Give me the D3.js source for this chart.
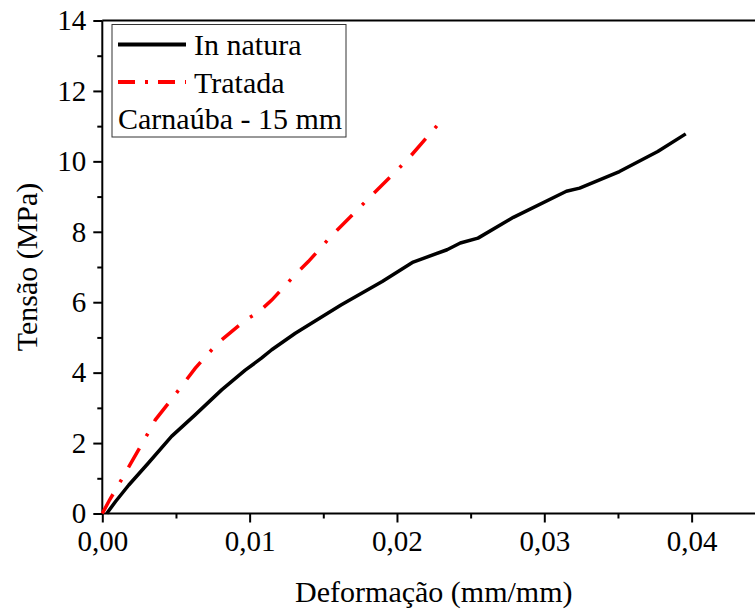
<!DOCTYPE html>
<html>
<head>
<meta charset="utf-8">
<script src="https://cdn.jsdelivr.net/npm/d3@7"></script>
<style>
    body { margin: 0; background: #fff; }
</style>
</head>
<body>
<div id="chart"></div>
<script>
// strain (mm/mm) and stress (MPa)
const naturaX = [0.0003, 0.0009, 0.0018, 0.0031, 0.0047, 0.0063, 0.0081, 0.0097, 0.0108, 0.0115, 0.0131, 0.0162, 0.0190, 0.0211, 0.0234, 0.0243, 0.0255, 0.0279, 0.0315, 0.0324, 0.0351, 0.0377, 0.0396];
const naturaY = [0, 0.34, 0.81, 1.42, 2.19, 2.80, 3.51, 4.07, 4.41, 4.65, 5.12, 5.92, 6.59, 7.14, 7.49, 7.68, 7.82, 8.41, 9.15, 9.24, 9.71, 10.28, 10.78];

const tratadaX = [0, 0.0005, 0.0010, 0.0020, 0.0031, 0.0036, 0.0049, 0.0057, 0.0063, 0.0071, 0.0079, 0.0097, 0.0106, 0.0115, 0.0132, 0.0140, 0.0155, 0.0182, 0.0207, 0.0231];
const tratadaY = [0, 0.39, 0.74, 1.47, 2.28, 2.66, 3.35, 3.79, 4.12, 4.50, 4.86, 5.49, 5.72, 6.06, 6.83, 7.16, 7.86, 9.00, 10.04, 11.20];

const xTicks = [0, 0.01, 0.02, 0.03, 0.04];
const xMinorTicks = [0.005, 0.015, 0.025, 0.035];
const yTicks = [0, 2, 4, 6, 8, 10, 12, 14];
const yMinorTicks = [1, 3, 5, 7, 9, 11, 13];

const legendLabels = ['In natura', 'Tratada'];
const legendNote = 'Carnaúba - 15 mm';

const FONT = '"Liberation Serif", "Times New Roman", "DejaVu Serif", serif';

const width = 755,
    height = 610,
    margin = { top: 20.5, left: 102.3 },
    plotW = 663,
    plotH = 493;

const x = d3.scaleLinear().domain([0, 0.045]).range([0, plotW]);
const y = d3.scaleLinear().domain([0, 14]).range([plotH, 0]);

const svg = d3.select('#chart').append('svg')
    .attr('width', width)
    .attr('height', height)
    .style('font-family', FONT);

const g = svg.append('g')
    .attr('transform', 'translate(' + margin.left + ',' + margin.top + ')');

const fmt = d => d3.format('.2f')(d).replace('.', ',');

// x axis
const xAxis = g.append('g')
    .attr('transform', 'translate(0,' + plotH + ')')
    .call(d3.axisBottom(x).tickValues(xTicks).tickFormat(fmt).tickSize(9).tickPadding(8));
g.append('g')
    .attr('transform', 'translate(0,' + plotH + ')')
    .call(d3.axisBottom(x).tickValues(xMinorTicks).tickFormat('').tickSize(5))
    .select('.domain').remove();

// y axis
const yAxis = g.append('g')
    .call(d3.axisLeft(y).tickValues(yTicks).tickSize(9).tickPadding(7));
g.append('g')
    .call(d3.axisLeft(y).tickValues(yMinorTicks).tickFormat('').tickSize(5))
    .select('.domain').remove();

// d3 axes put font-family="sans-serif" on their groups, override it
g.selectAll('g').attr('font-family', null);

g.selectAll('.domain').attr('stroke', '#000').attr('stroke-width', 2);
g.selectAll('.tick line').attr('stroke', '#000').attr('stroke-width', 2);
xAxis.selectAll('text').style('font-size', '29px').style('font-family', FONT).attr('fill', '#000').attr('dy', '0.71em');
yAxis.selectAll('text').style('font-size', '29px').style('font-family', FONT).attr('fill', '#000');
xAxis.select('.domain').attr('d', 'M0,0H' + plotW);
yAxis.select('.domain').attr('d', 'M0,0V' + plotH);

// top frame line
g.append('line')
    .attr('x1', 0).attr('x2', plotW)
    .attr('y1', 0).attr('y2', 0)
    .attr('stroke', '#000').attr('stroke-width', 2);

// axis titles
svg.append('text')
    .attr('x', margin.left + plotW / 2)
    .attr('y', 602)
    .attr('text-anchor', 'middle')
    .style('font-size', '30px')
    .style('font-family', FONT)
    .text('Deformação (mm/mm)');

svg.append('text')
    .attr('transform', 'translate(37,' + (margin.top + plotH / 2) + ') rotate(-90)')
    .attr('text-anchor', 'middle')
    .style('font-size', '30px')
    .style('font-family', FONT)
    .text('Tensão (MPa)');

// curves
const line = d3.line()
    .x(d => x(d[0]))
    .y(d => y(d[1]));

const naturaData = naturaX.map((v, i) => [v, naturaY[i]]);
const tratadaData = tratadaX.map((v, i) => [v, tratadaY[i]]);

g.append('path')
    .datum(naturaData)
    .attr('fill', 'none')
    .attr('stroke', '#000')
    .attr('stroke-width', 3.5)
    .attr('stroke-linejoin', 'round')
    .attr('d', line);

g.append('path')
    .datum(tratadaData)
    .attr('fill', 'none')
    .attr('stroke', '#ff0000')
    .attr('stroke-width', 3.5)
    .attr('stroke-dasharray', '22,14,3,14')
    .attr('d', line);

// legend
const legend = svg.append('g').attr('transform', 'translate(112,24.5)');

legend.append('rect')
    .attr('width', 234)
    .attr('height', 112.5)
    .attr('fill', '#fff')
    .attr('stroke', '#333')
    .attr('stroke-width', 1);

const styles = [
    { color: '#000', dash: null },
    { color: '#ff0000', dash: '17,10,3,10' }
];

legendLabels.forEach((label, i) => {
    const ly = 20 + i * 37.5;
    legend.append('line')
        .attr('x1', 6).attr('x2', 74)
        .attr('y1', ly).attr('y2', ly)
        .attr('stroke', styles[i].color)
        .attr('stroke-width', 4)
        .attr('stroke-dasharray', styles[i].dash);
    legend.append('text')
        .attr('x', 82)
        .attr('y', ly + 10.5)
        .style('font-size', '30px')
        .style('font-family', FONT)
        .text(label);
});

legend.append('text')
    .attr('x', 6)
    .attr('y', 104.5)
    .style('font-size', '30px')
    .style('font-family', FONT)
    .text(legendNote);
</script>
</body>
</html>
